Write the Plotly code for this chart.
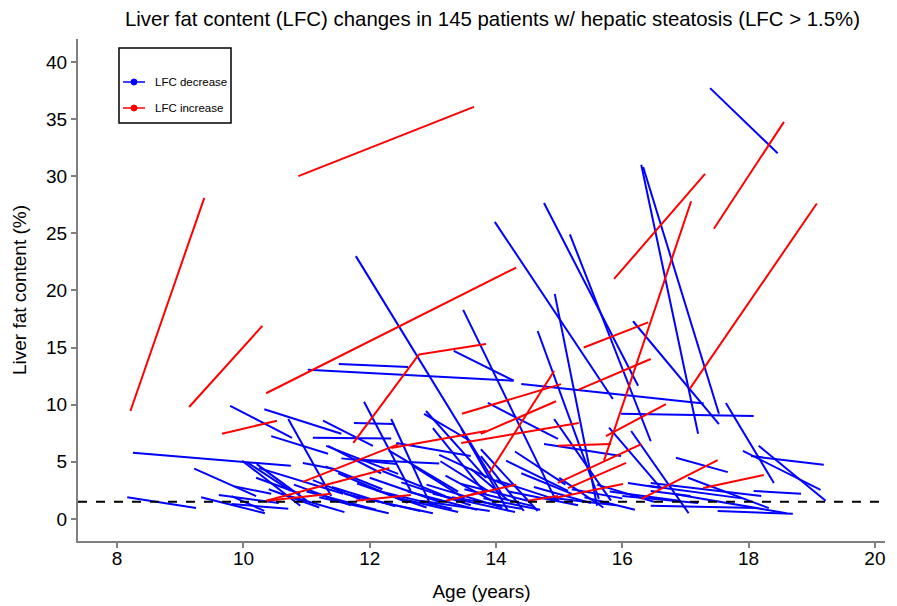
import plotly.graph_objects as go

# ---- LFC increase (red): start age, start LFC, end age, end LFC ----
inc_age1 = [8.21, 9.14, 10.87, 10.36, 9.66, 11.74, 12.78, 15.39, 15.87, 15.30, 17.45, 17.07,
            15.71, 13.89, 13.46, 10.94, 12.34, 10.36, 13.45, 14.98, 14.98, 15.14, 14.95, 13.60,
            14.50, 16.30, 17.28, 15.74, 10.37, 11.78, 13.21, 13.76]
inc_lfc1 = [9.45, 9.8, 30.0, 11.0, 7.45, 6.65, 14.4, 15.0, 21.0, 11.3, 25.4, 11.4,
            5.1, 4.0, 9.2, 3.25, 6.2, 1.6, 6.65, 3.15, 6.4, 2.7, 1.85, 2.1,
            1.6, 1.75, 2.7, 7.25, 1.6, 1.6, 1.6, 7.45]
inc_age2 = [9.38, 10.30, 13.65, 14.32, 10.53, 12.78, 13.84, 16.41, 17.31, 16.45, 18.56, 19.08,
            17.09, 14.92, 15.03, 12.46, 13.84, 12.31, 15.31, 16.30, 15.82, 16.06, 16.01, 14.32,
            14.98, 17.51, 18.24, 16.69, 11.39, 12.65, 13.84, 14.95]
inc_lfc2 = [28.1, 16.9, 36.06, 22.0, 8.6, 14.4, 15.3, 17.2, 30.2, 14.0, 34.75, 27.6,
            27.8, 12.95, 11.8, 6.55, 7.7, 4.45, 8.4, 6.55, 6.55, 4.9, 3.05, 3.0,
            2.0, 5.15, 3.85, 10.05, 2.2, 2.1, 2.45, 10.3]

# ---- LFC decrease (blue) ----
dec_age1 = [17.39, 16.30, 16.33, 16.17, 14.76, 15.17, 13.98, 11.78, 13.48, 14.93, 14.66, 11.02,
            11.51, 13.33, 14.40, 15.98, 17.64, 17.91, 18.16, 18.04, 16.85, 17.04, 16.45, 18.08,
            16.45, 16.45, 17.51, 13.87, 14.76, 14.16, 14.92, 15.79, 8.25, 8.16, 9.22, 9.33,
            9.61, 9.79, 10.33, 9.98, 10.71, 10.44, 11.10, 11.26, 11.34, 10.06, 10.21, 10.25,
            10.94, 9.86, 9.81, 9.81, 11.55, 11.91, 12.34, 11.75, 12.42, 12.86, 12.89, 13.00,
            11.76, 11.31, 13.12, 13.76, 13.76, 13.45, 13.45, 16.09, 16.14,
            10.4, 10.6, 10.8, 11.0, 11.1, 11.2, 11.4, 11.5, 11.6, 11.8, 11.9, 12.0, 12.1, 12.2,
            12.4, 12.5, 12.6, 12.7, 12.8, 12.9, 13.0, 13.2, 13.3, 13.5, 13.6, 13.8, 14.0, 14.2,
            14.4, 14.6, 14.8, 15.0, 15.2, 15.4, 15.6, 15.8, 16.0, 16.4, 16.8, 10.2, 12.3, 13.1,
            14.3, 11.3]
dec_lfc1 = [37.7, 31.0, 30.8, 17.3, 27.65, 24.9, 26.0, 23.0, 18.3, 19.7, 16.45, 13.05,
            13.55, 14.7, 11.8, 9.2, 10.15, 5.95, 6.4, 5.5, 5.35, 3.6, 3.15, 2.45,
            2.45, 1.15, 0.7, 10.15, 6.55, 5.1, 8.75, 8.0, 5.8, 1.9, 4.4, 1.9,
            2.1, 9.9, 9.6, 5.1, 8.75, 7.25, 7.1, 8.6, 6.4, 4.95, 4.8, 4.45,
            4.9, 2.85, 2.0, 1.3, 5.3, 10.25, 8.75, 8.4, 6.65, 9.2, 9.45, 7.95,
            5.2, 6.4, 5.05, 6.1, 5.5, 3.05, 7.9, 3.15, 7.7,
            2.6, 2.2, 3.0, 2.4, 3.4, 1.9, 2.8, 4.0, 2.2, 3.1, 1.8, 3.6, 2.5, 4.2,
            1.9, 3.2, 2.4, 4.6, 1.6, 3.0, 2.2, 3.8, 1.9, 2.6, 4.4, 1.8, 3.4, 2.4,
            4.0, 2.8, 1.9, 3.6, 2.6, 1.9, 3.0, 2.4, 2.0, 2.9, 2.2, 3.6, 6.0, 5.6,
            5.9, 4.6]
dec_age2 = [18.46, 17.20, 17.53, 17.53, 16.25, 16.45, 15.85, 14.11, 14.95, 15.60, 15.63, 14.28,
            12.61, 14.28, 17.29, 18.08, 18.40, 19.14, 19.22, 19.19, 17.67, 18.32, 18.20, 18.83,
            17.08, 18.15, 18.70, 14.98, 15.98, 15.14, 15.82, 16.61, 10.75, 9.25, 10.20, 10.34,
            10.56, 10.77, 11.55, 10.90, 11.39, 11.34, 12.34, 12.05, 12.18, 10.75, 11.00, 11.58,
            11.46, 10.44, 10.33, 10.71, 12.42, 12.65, 12.97, 12.39, 13.60, 13.60, 13.84, 13.84,
            13.10, 12.45, 13.87, 14.66, 14.44, 14.50, 14.19, 16.61, 17.05,
            11.2, 11.6, 11.7, 12.1, 11.9, 12.3, 12.4, 12.6, 12.8, 12.9, 13.0, 13.1, 13.3, 13.2,
            13.4, 13.6, 13.7, 13.5, 13.9, 14.1, 14.3, 14.0, 14.4, 14.6, 14.2, 14.7, 15.0, 15.3,
            15.2, 15.5, 15.9, 15.7, 16.0, 16.2, 16.5, 16.9, 17.2, 17.9, 18.6, 10.9, 13.4, 14.2,
            15.1, 12.2]
dec_lfc2 = [32.0, 7.45, 9.2, 8.3, 11.65, 6.8, 10.5, 2.0, 1.6, 1.15, 1.75, 12.1,
            13.3, 12.1, 10.1, 9.0, 3.15, 2.55, 1.6, 4.75, 4.1, 0.95, 2.0, 2.2,
            2.0, 0.95, 0.45, 7.0, 5.5, 2.45, 1.6, 2.7, 4.65, 0.95, 2.0, 0.5,
            1.4, 7.1, 7.45, 1.15, 2.0, 5.7, 7.05, 6.4, 4.0, 2.45, 1.6, 2.2,
            4.35, 2.2, 0.7, 0.9, 4.8, 2.45, 1.15, 8.3, 5.5, 6.8, 3.6, 2.2,
            4.85, 3.95, 2.45, 0.7, 0.7, 1.6, 0.7, 2.7, 0.5,
            1.0, 0.6, 1.2, 0.8, 1.6, 0.5, 1.1, 1.4, 0.7, 1.0, 0.5, 1.5, 0.9, 2.0,
            0.6, 1.2, 0.8, 1.8, 0.7, 1.0, 0.6, 1.4, 0.9, 1.1, 1.6, 0.8, 1.6, 1.2,
            2.2, 1.4, 1.2, 1.0, 1.8, 0.8, 1.5, 1.6, 1.4, 1.8, 0.5, 2.2, 2.4, 2.8,
            3.0, 2.6]

threshold = 1.5
x_ticks = [8, 10, 12, 14, 16, 18, 20]
y_ticks = [0, 5, 10, 15, 20, 25, 30, 35, 40]
title_text = "Liver fat content (LFC) changes in 145 patients w/ hepatic steatosis (LFC > 1.5%)"


def segments(a1, l1, a2, l2):
    xs, ys = [], []
    for i in range(len(a1)):
        xs += [a1[i], a2[i], None]
        ys += [l1[i], l2[i], None]
    return xs, ys


fig = go.Figure()
dx, dy = segments(dec_age1, dec_lfc1, dec_age2, dec_lfc2)
fig.add_trace(go.Scatter(x=dx, y=dy, mode="lines", line=dict(color="#0000FF", width=2),
                         showlegend=False, hoverinfo="skip"))
ix, iy = segments(inc_age1, inc_lfc1, inc_age2, inc_lfc2)
fig.add_trace(go.Scatter(x=ix, y=iy, mode="lines", line=dict(color="#FF0000", width=2),
                         showlegend=False, hoverinfo="skip"))

# threshold dashed line
fig.add_shape(type="line", xref="paper", yref="y", x0=0, x1=1, y0=threshold, y1=threshold,
              line=dict(color="black", width=2, dash="dash"))

# page is offset by the body margin; work in target-page pixels
OFF = 7
W, H = 897 - OFF, 606 - OFF
L, R, B, T = 77, 884, 540, 38
def px(x):
    return (x - L) / (R - L)
def py(y):
    return (B - y) / (B - T)

fig.add_shape(type="rect", xref="paper", yref="paper", x0=px(118), x1=px(230), y0=py(122), y1=py(47),
              line=dict(color="black", width=1.5), fillcolor="white")
for yy, col, lab in [(81, "#0000FF", "LFC decrease"), (107, "#FF0000", "LFC increase")]:
    fig.add_shape(type="line", xref="paper", yref="paper", x0=px(122), x1=px(144), y0=py(yy), y1=py(yy),
                  line=dict(color=col, width=1.5))
    fig.add_shape(type="circle", xref="paper", yref="paper", x0=px(130), x1=px(136),
                  y0=py(yy + 3), y1=py(yy - 3), line=dict(color=col, width=1), fillcolor=col)
    fig.add_annotation(xref="paper", yref="paper", x=px(152), y=py(yy), text=lab, showarrow=False,
                       xanchor="left", yanchor="middle", font=dict(size=11.5, color="black"))

fig.update_layout(
    width=W, height=H,
    margin=dict(l=L - OFF, r=W - (R - OFF), t=T - OFF, b=H - (B - OFF), autoexpand=False),
    paper_bgcolor="white", plot_bgcolor="white",
    font=dict(family="Arial, Liberation Sans, sans-serif", color="black"),
    title=dict(text=title_text, x=(491.5 - OFF) / W, xanchor="center", y=1 - (18 - OFF) / H,
               yanchor="middle", font=dict(size=20.4, color="black")),
)
fig.update_xaxes(range=[7.38, 20.16], tickvals=x_ticks, showgrid=False, zeroline=False,
                 automargin=False, ticklabelstandoff=-6,
                 showline=True, linecolor="#808080", linewidth=2, ticks="outside", ticklen=5,
                 tickcolor="#808080", tickwidth=1.5, tickfont=dict(size=19),
                 title=dict(text="Age (years)", font=dict(size=19), standoff=17))
fig.update_yaxes(range=[-1.93, 42.0], tickvals=y_ticks, showgrid=False, zeroline=False,
                 automargin=False,
                 showline=True, linecolor="#808080", linewidth=2, ticks="outside", ticklen=5,
                 tickcolor="#808080", tickwidth=1.5, tickfont=dict(size=19),
                 title=dict(text="Liver fat content (%)", font=dict(size=19), standoff=14))

fig.write_html("out.html")
